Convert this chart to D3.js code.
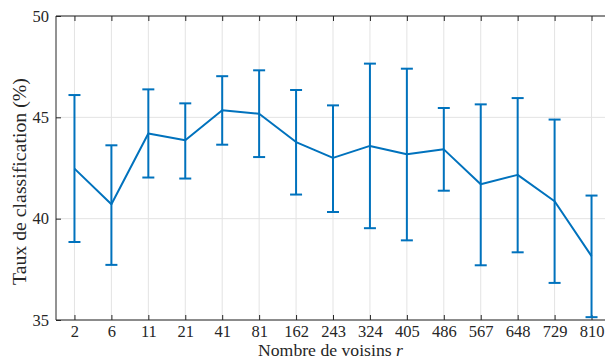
<!DOCTYPE html>
<html>
<head>
<meta charset="utf-8">
<script src="https://cdn.jsdelivr.net/npm/d3@7"></script>
<style>
html,body{margin:0;padding:0;background:#fff;}
svg{display:block;}
svg text{font-family:"Liberation Serif","Times New Roman",serif;fill:#262626;}
</style>
</head>
<body>
<svg id="chart" width="605" height="360"></svg>
<script>
const categories = ["2","6","11","21","41","81","162","243","324","405","486","567","648","729","810"];
const meanValues = [42.47,40.71,44.20,43.87,45.35,45.18,43.78,43.00,43.59,43.18,43.42,41.70,42.16,40.86,38.15];
const upperValues = [46.10,43.62,46.38,45.69,47.03,47.32,46.35,45.59,47.65,47.40,45.46,45.64,45.95,44.89,41.14];
const lowerValues = [38.85,37.72,42.03,41.98,43.65,43.04,41.19,40.33,39.53,38.93,41.38,37.70,38.34,36.83,35.14];
const yTicks = [35,40,45,50];

(function () {
const svg = d3.select("#chart");
const pLeft = 56, pRight = 610, pTop = 16, pBottom = 320;
const color = "#0072BD";
const serif = "'Liberation Serif', 'Times New Roman', serif";

const x = d3.scalePoint().domain(categories).range([pLeft, pRight]).padding(0.5);
const y = d3.scaleLinear().domain([35, 50]).range([pBottom, pTop]);

// grid
const g = svg.append("g");
g.selectAll(".gx").data(categories).enter().append("line")
  .attr("x1", d => x(d)).attr("x2", d => x(d))
  .attr("y1", pTop).attr("y2", pBottom)
  .attr("stroke", "#e3e3e3").attr("stroke-width", 1);
g.selectAll(".gy").data(yTicks).enter().append("line")
  .attr("x1", pLeft).attr("x2", pRight)
  .attr("y1", d => y(d)).attr("y2", d => y(d))
  .attr("stroke", "#e3e3e3").attr("stroke-width", 1);

// axes (inward ticks)
const axisColor = "#262626";
const bx = svg.append("g").attr("transform", `translate(0,${pBottom})`)
  .call(d3.axisBottom(x).tickSizeInner(-5).tickSizeOuter(0).tickPadding(5));
const tx = svg.append("g").attr("transform", `translate(0,${pTop})`)
  .call(d3.axisTop(x).tickSizeInner(-5).tickSizeOuter(0).tickFormat(""));
const ly = svg.append("g").attr("transform", `translate(${pLeft},0)`)
  .call(d3.axisLeft(y).tickValues(yTicks).tickSizeInner(-5).tickSizeOuter(0).tickPadding(7));
const ry = svg.append("g").attr("transform", `translate(${pRight},0)`)
  .call(d3.axisRight(y).tickValues(yTicks).tickSizeInner(-5).tickSizeOuter(0).tickFormat(""));
[bx, tx, ly, ry].forEach(a => {
  a.attr("font-family", null).attr("font-size", null);
  a.select(".domain").attr("stroke", axisColor).attr("stroke-width", 1);
  a.selectAll(".tick line").attr("stroke", axisColor);
  a.selectAll("text").style("font-family", serif).style("font-size", "16.5px").attr("fill", axisColor);
});
bx.select(".domain").attr("d", `M${pLeft},0H${pRight}`);
tx.select(".domain").attr("d", `M${pLeft},0H${pRight}`);
ly.select(".domain").attr("d", `M0,${pTop}V${pBottom}`);
ry.select(".domain").attr("d", `M0,${pTop}V${pBottom}`);

// error bars
const data = categories.map((c, i) => ({c, m: meanValues[i], hi: upperValues[i], lo: lowerValues[i]}));
const eb = svg.append("g").attr("stroke", color).attr("stroke-width", 2).attr("fill", "none");
eb.selectAll(".v").data(data).enter().append("line")
  .attr("x1", d => x(d.c)).attr("x2", d => x(d.c))
  .attr("y1", d => y(d.hi)).attr("y2", d => y(d.lo));
eb.selectAll(".ct").data(data).enter().append("line")
  .attr("x1", d => x(d.c) - 6).attr("x2", d => x(d.c) + 6)
  .attr("y1", d => y(d.hi)).attr("y2", d => y(d.hi));
eb.selectAll(".cb").data(data).enter().append("line")
  .attr("x1", d => x(d.c) - 6).attr("x2", d => x(d.c) + 6)
  .attr("y1", d => y(d.lo)).attr("y2", d => y(d.lo));

svg.append("path").datum(data)
  .attr("fill", "none").attr("stroke", color).attr("stroke-width", 2)
  .attr("stroke-linejoin", "round")
  .attr("d", d3.line().x(d => x(d.c)).y(d => y(d.m)));

// labels
const xl = svg.append("text").attr("x", 258).attr("y", 356)
  .attr("text-anchor", "start").style("font-family", serif).style("font-size", "17.7px");
xl.append("tspan").text("Nombre de voisins ");
xl.append("tspan").attr("font-style", "italic").text("r");

svg.append("text").attr("transform", "translate(25.5,285) rotate(-90)")
  .attr("text-anchor", "start").style("font-family", serif).style("font-size", "19.8px")
  .text("Taux de classification (%)");
})();
</script>
</body>
</html>
